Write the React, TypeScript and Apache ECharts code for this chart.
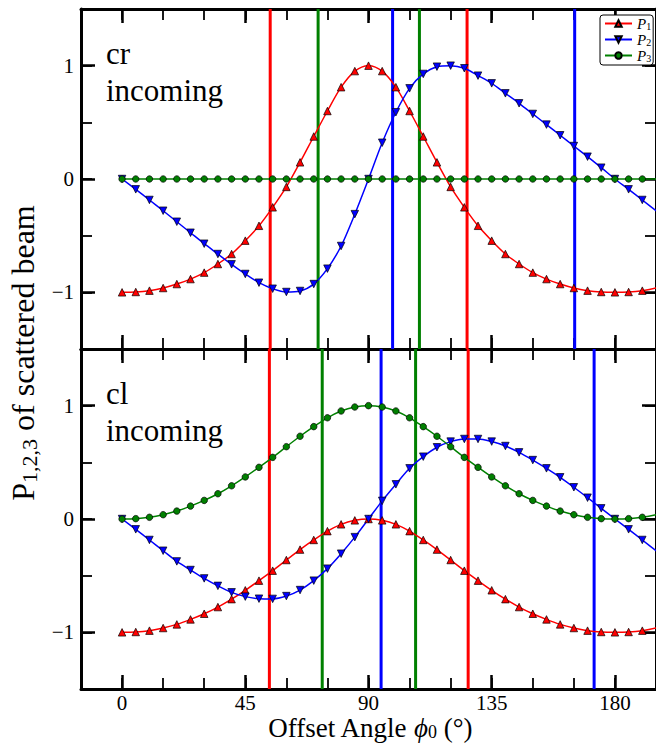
import React, { useEffect, useRef } from "react";
import * as echarts from "echarts";

// ---------- data ----------
const ANGLES = [0, 5, 10, 15, 20, 25, 30, 35, 40, 45, 50, 55, 60, 65, 70, 75, 80, 85, 90, 95, 100, 105, 110, 115, 120, 125, 130, 135, 140, 145, 150, 155, 160, 165, 170, 175, 180, 185, 190, 195, 200];

// panel "cr incoming"
const CR_P1 = [-1, -0.997, -0.985, -0.962, -0.927, -0.883, -0.826, -0.75, -0.662, -0.544, -0.413, -0.25, -0.07, 0.147, 0.375, 0.6, 0.81, 0.952, 1.0, 0.952, 0.81, 0.6, 0.375, 0.147, -0.07, -0.25, -0.413, -0.544, -0.662, -0.75, -0.826, -0.883, -0.927, -0.962, -0.985, -0.997, -1, -0.997, -0.985, -0.962, -0.927];
const CR_P2 = [0, -0.091, -0.185, -0.28, -0.377, -0.474, -0.571, -0.662, -0.753, -0.838, -0.915, -0.968, -0.997, -0.988, -0.927, -0.791, -0.591, -0.31, 0, 0.32, 0.589, 0.8, 0.927, 0.991, 1.0, 0.977, 0.912, 0.844, 0.756, 0.668, 0.574, 0.48, 0.386, 0.291, 0.197, 0.1, 0, -0.091, -0.185, -0.28, -0.377];
const CR_P3 = [0, 0, 0, 0, 0, 0, 0, 0, 0, 0, 0, 0, 0, 0, 0, 0, 0, 0, 0, 0, 0, 0, 0, 0, 0, 0, 0, 0, 0, 0, 0, 0, 0, 0, 0, 0, 0, 0, 0, 0, 0];

// panel "cl incoming"
const CL_P1 = [-1, -0.997, -0.985, -0.962, -0.93, -0.886, -0.836, -0.777, -0.707, -0.629, -0.544, -0.456, -0.362, -0.27, -0.185, -0.107, -0.047, -0.012, 0, -0.012, -0.047, -0.107, -0.185, -0.27, -0.362, -0.456, -0.544, -0.629, -0.707, -0.777, -0.836, -0.886, -0.93, -0.962, -0.985, -0.997, -1, -0.997, -0.985, -0.962, -0.93];
const CL_P2 = [0, -0.091, -0.185, -0.28, -0.374, -0.45, -0.524, -0.59, -0.647, -0.685, -0.703, -0.705, -0.68, -0.627, -0.544, -0.438, -0.306, -0.16, 0, 0.16, 0.306, 0.447, 0.55, 0.633, 0.683, 0.706, 0.706, 0.683, 0.644, 0.588, 0.52, 0.447, 0.368, 0.28, 0.188, 0.094, 0, -0.091, -0.185, -0.28, -0.374];
const CL_P3 = [0, 0.003, 0.015, 0.038, 0.07, 0.114, 0.164, 0.223, 0.293, 0.371, 0.456, 0.544, 0.638, 0.73, 0.815, 0.893, 0.953, 0.988, 1.0, 0.988, 0.953, 0.893, 0.815, 0.73, 0.638, 0.544, 0.456, 0.371, 0.293, 0.223, 0.164, 0.114, 0.07, 0.038, 0.015, 0.003, 0, 0.003, 0.015, 0.038, 0.07];

// vertical marker lines (degrees)
const CR_RED_LINES = [54.1, 126.0];
const CR_GREEN_LINES = [71.6, 108.6];
const CR_BLUE_LINES = [98.8, 165.3];
const CL_RED_LINES = [53.8, 126.4];
const CL_GREEN_LINES = [73.1, 107.2];
const CL_BLUE_LINES = [94.6, 172.4];

const X_MIN = -15;
const X_MAX = 195;
const X_MAJOR = [0, 45, 90, 135, 180];
const Y_MIN = -1.5;
const Y_MAX = 1.5;
const Y_MAJOR = [-1, 0, 1];

const SERIES_NAMES = ["P1", "P2", "P3"];
const PANEL_LABELS = [["cr", "incoming"], ["cl", "incoming"]];

// ---------- styling ----------
const FAM = "Liberation Serif, DejaVu Serif, Times New Roman, serif";
const RED = "#ff0000";
const BLUE = "#0000ff";
const GREEN = "#008000";
const GRID_LEFT = 81;
const GRID_WIDTH = 578;
const GRID_H = 340;
const GRID_TOPS = [9, 349];

function pairs(vals: number[]) {
  return ANGLES.map((a, i) => [a, vals[i]]);
}

function makeXAxes(gridIndex: number, showLabels: boolean) {
  const base = { type: "value", gridIndex, min: X_MIN, max: X_MAX, splitLine: { show: false } };
  const major = (position: string, labels: boolean) => ({
    ...base,
    position,
    axisLine: { show: true, onZero: false, lineStyle: { color: "#000", width: 3 } },
    axisTick: { show: true, inside: true, length: 14, lineStyle: { color: "#000", width: 2.5 }, customValues: X_MAJOR },
    axisLabel: { show: labels, customValues: X_MAJOR, margin: 4, fontSize: 21, lineHeight: 20, fontFamily: FAM, color: "#000" },
  });
  const minor = (position: string) => ({
    ...base,
    position,
    interval: 15,
    axisLine: { show: false, onZero: false },
    axisTick: { show: true, inside: true, length: 11, lineStyle: { color: "#000", width: 1.8 } },
    axisLabel: { show: false },
  });
  return [major("bottom", showLabels), minor("bottom"), major("top", false), minor("top")];
}

function makeYAxes(gridIndex: number) {
  const base = { type: "value", gridIndex, min: Y_MIN, max: Y_MAX, splitLine: { show: false } };
  const major = (position: string, labels: boolean) => ({
    ...base,
    position,
    axisLine: { show: true, onZero: false, lineStyle: { color: "#000", width: 3 } },
    axisTick: { show: true, inside: true, length: 14, lineStyle: { color: "#000", width: 2.5 }, customValues: Y_MAJOR },
    axisLabel: {
      show: labels,
      customValues: Y_MAJOR,
      margin: 7,
      fontSize: 21,
      fontFamily: FAM,
      color: "#000",
      formatter: (v: number) => (v < 0 ? "\u2212" + Math.abs(v) : String(v)),
    },
  });
  const minor = (position: string) => ({
    ...base,
    position,
    interval: 0.5,
    axisLine: { show: false, onZero: false },
    axisTick: { show: true, inside: true, length: 11, lineStyle: { color: "#000", width: 1.8 } },
    axisLabel: { show: false },
  });
  return [major("left", true), minor("left"), major("right", false), minor("right")];
}

function dataSeries(name: string, vals: number[], color: string, symbol: string, axisIdx: number) {
  return {
    type: "line",
    name,
    xAxisIndex: axisIdx,
    yAxisIndex: axisIdx,
    data: pairs(vals),
    smooth: 0.3,
    symbol,
    symbolSize: (v: number[]) => (v[0] > 192 ? 0 : symbol === "circle" ? 6.5 : 7.5),
    showAllSymbol: true,
    lineStyle: { color, width: 1.5 },
    itemStyle: { color, borderColor: "#000", borderWidth: 0.7 },
    z: 3,
  };
}

function vLines(vals: number[], color: string, axisIdx: number) {
  return vals.map((v) => ({
    type: "line",
    xAxisIndex: axisIdx,
    yAxisIndex: axisIdx,
    data: [[v, Y_MIN], [v, Y_MAX]],
    symbol: "none",
    lineStyle: { color, width: 3 },
    silent: true,
    z: 1,
  }));
}

export default function App() {
  const ref = useRef<HTMLDivElement>(null);
  useEffect(() => {
    if (!ref.current) return;
    const chart = echarts.init(ref.current, undefined, { renderer: "svg" });
    const panels = [
      { p: [CR_P1, CR_P2, CR_P3], lines: [CR_RED_LINES, CR_GREEN_LINES, CR_BLUE_LINES] },
      { p: [CL_P1, CL_P2, CL_P3], lines: [CL_RED_LINES, CL_GREEN_LINES, CL_BLUE_LINES] },
    ];
    const series: any[] = [];
    panels.forEach((pn, g) => {
      const ai = g * 4;
      series.push(...vLines(pn.lines[0], RED, ai));
      series.push(...vLines(pn.lines[1], GREEN, ai));
      series.push(...vLines(pn.lines[2], BLUE, ai));
      series.push(dataSeries(SERIES_NAMES[0], pn.p[0], RED, "triangle", ai));
      series.push(dataSeries(SERIES_NAMES[1], pn.p[1], BLUE, "path://M0,0 L10,0 L5,9 Z", ai));
      series.push(dataSeries(SERIES_NAMES[2], pn.p[2], GREEN, "circle", ai));
    });

    const graphics: any[] = [];
    PANEL_LABELS.forEach((lbl, g) => {
      const base = GRID_TOPS[g] + 44;
      lbl.forEach((t, k) => {
        graphics.push({
          type: "text",
          x: 106,
          y: base + k * 37,
          style: { legacy: false, text: t, fontSize: 31, fontFamily: FAM, fill: "#000", align: "left", verticalAlign: "middle" },
        });
      });
    });
    graphics.push({
      type: "text",
      x: 23,
      y: 353,
      rotation: Math.PI / 2,
      style: {
        legacy: false,
        text: "{p|P}{s|1,2,3}{p| of scattered beam}",
        fontSize: 32,
        fontFamily: FAM,
        align: "center",
        verticalAlign: "middle",
        fill: "#000",
        rich: {
          p: { fontSize: 32, fontFamily: FAM, fill: "#000", lineHeight: 34 },
          s: { fontSize: 22, fontFamily: FAM, fill: "#000", lineHeight: 22, verticalAlign: "bottom" },
        },
      },
    });
    graphics.push({
      type: "text",
      x: 370,
      y: 728,
      style: {
        legacy: false,
        text: "{t|Offset Angle }{i|\u03d5}{s|0}{t| (\u00b0)}",
        fontSize: 27,
        fontFamily: FAM,
        align: "center",
        verticalAlign: "middle",
        fill: "#000",
        rich: {
          t: { fontSize: 27, fontFamily: FAM, fill: "#000", lineHeight: 26 },
          i: { fontSize: 27, fontFamily: FAM, fontStyle: "italic", fill: "#000", lineHeight: 26 },
          s: { fontSize: 18, fontFamily: FAM, fill: "#000", lineHeight: 16, verticalAlign: "bottom" },
        },
      },
    });

    chart.setOption({
      animation: false,
      backgroundColor: "#fff",
      grid: GRID_TOPS.map((top) => ({ left: GRID_LEFT, top, width: GRID_WIDTH, height: GRID_H, containLabel: false })),
      xAxis: [...makeXAxes(0, false), ...makeXAxes(1, true)],
      yAxis: [...makeYAxes(0), ...makeYAxes(1)],
      legend: {
        data: SERIES_NAMES,
        orient: "vertical",
        left: 600,
        top: 15,
        itemWidth: 27,
        itemHeight: 8,
        itemGap: 1,
        padding: [1, 2, 2, 4],
        borderColor: "#000",
        borderWidth: 1,
        borderRadius: 3,
        backgroundColor: "#fff",
        selectedMode: false,
        formatter: (name: string) => `{p|P}{s|${name.slice(1)}}`,
        textStyle: {
          rich: {
            p: { fontSize: 15, fontFamily: FAM, fontStyle: "italic", color: "#000", lineHeight: 15 },
            s: { fontSize: 10, fontFamily: FAM, color: "#000", lineHeight: 9, verticalAlign: "bottom" },
          },
        },
      },
      graphic: graphics,
      series,
    });
    return () => chart.dispose();
  }, []);
  return <div ref={ref} style={{ position: "absolute", left: 0, top: 0, width: 656, height: 743 }} />;
}
